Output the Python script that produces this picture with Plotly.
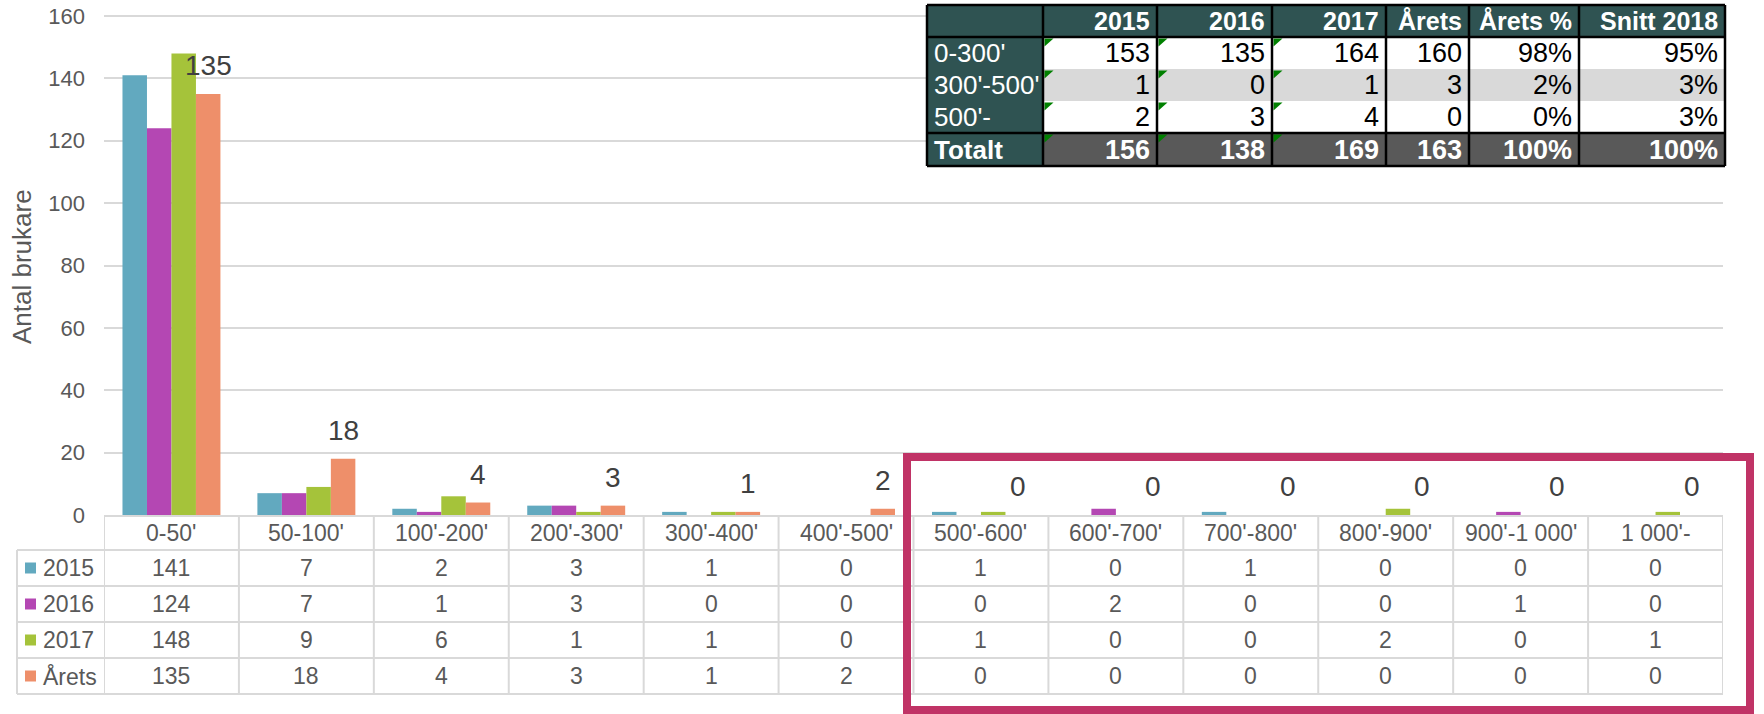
import plotly.graph_objects as go

W, H = 1764, 714
OFF = 0  # the page body margin is removed below (post_script)

# ---------------- data ----------------
categories = ["0-50'", "50-100'", "100'-200'", "200'-300'", "300'-400'", "400'-500'",
              "500'-600'", "600'-700'", "700'-800'", "800'-900'", "900'-1 000'", "1 000'-"]
series_names = ["2015", "2016", "2017", "Årets"]
v2015 = [141, 7, 2, 3, 1, 0, 1, 0, 1, 0, 0, 0]
v2016 = [124, 7, 1, 3, 0, 0, 0, 2, 0, 0, 1, 0]
v2017 = [148, 9, 6, 1, 1, 0, 1, 0, 0, 2, 0, 1]
varets = [135, 18, 4, 3, 1, 2, 0, 0, 0, 0, 0, 0]
series_values = [v2015, v2016, v2017, varets]
series_colors = ["#62A9BF", "#B447B3", "#A5C33A", "#EE8F6A"]
y_tickvals = [0, 20, 40, 60, 80, 100, 120, 140, 160]
y_title = "Antal brukare"

# summary table (top right)
sum_header = ["", "2015", "2016", "2017", "Årets", "Årets %", "Snitt 2018"]
sum_row_labels = ["0-300'", "300'-500'", "500'-", "Totalt"]
sum_2015 = [153, 1, 2, 156]
sum_2016 = [135, 0, 3, 138]
sum_2017 = [164, 1, 4, 169]
sum_arets = [160, 3, 0, 163]
sum_arets_pct = ["98%", "2%", "0%", "100%"]
sum_snitt = ["95%", "3%", "3%", "100%"]

# ---------------- layout geometry (page pixels) ----------------
PLOT_L, PLOT_R = 104, 1723
Y160, Y_BOT = 16, 515          # pixel rows of value 160 and value 0
Y_MAX = 161                    # small headroom so the 160 gridline is kept
Y_TOP = Y_BOT - (Y_BOT - Y160) * Y_MAX / 160
BARGAP = 0.274
TXT = "#595959"
GRID = "#D9D9D9"
FONT = "Liberation Sans, Arial, sans-serif"


def px(x):
    return (x - OFF) / W


def py(y):
    return 1 - (y - OFF) / H


fig = go.Figure()
for name, vals, col in zip(series_names, series_values, series_colors):
    fig.add_trace(go.Bar(x=categories, y=vals, name=name, marker_color=col,
                         marker_line_width=0, showlegend=False, hoverinfo="x+y+name"))

shapes = []
annotations = []

# data labels for "Årets" series (outside end)
bar_w = (1 - BARGAP) / len(series_names)
arets_off = bar_w * 1.5
for i, v in enumerate(varets):
    annotations.append(dict(x=i + arets_off, y=v, xref="x", yref="y", text=str(v),
                            showarrow=False, yanchor="bottom", yshift=11,
                            font=dict(size=28, color="#404040", family=FONT)))

# y-axis title
annotations.append(dict(x=px(22), y=py(267), xref="paper", yref="paper", text=y_title,
                        textangle=-90, showarrow=False, xanchor="center", yanchor="middle",
                        font=dict(size=26, color=TXT, family=FONT)))

# ---------------- data table under the chart ----------------
T_HDR_TOP, T_HDR_BOT = 516, 550
row_edges = [550, 586, 622, 658, 694]
LEG_L = 17
line_style = dict(color=GRID, width=2)
# horizontal lines
shapes.append(dict(type="line", xref="paper", yref="paper", x0=px(PLOT_L), x1=px(PLOT_R),
                   y0=py(T_HDR_TOP), y1=py(T_HDR_TOP), line=line_style, layer="above"))
for ye in row_edges:
    shapes.append(dict(type="line", xref="paper", yref="paper", x0=px(LEG_L), x1=px(PLOT_R),
                       y0=py(ye), y1=py(ye), line=line_style, layer="above"))
# vertical lines
for k in range(len(categories) + 1):
    shapes.append(dict(type="line", xref="x", yref="paper", x0=k - 0.5, x1=k - 0.5,
                       y0=py(T_HDR_TOP), y1=py(row_edges[-1]), line=line_style, layer="above"))
shapes.append(dict(type="line", xref="paper", yref="paper", x0=px(LEG_L), x1=px(LEG_L),
                   y0=py(row_edges[0]), y1=py(row_edges[-1]), line=line_style, layer="above"))
# category header labels
for i, c in enumerate(categories):
    annotations.append(dict(x=i, y=py((T_HDR_TOP + T_HDR_BOT) / 2), xref="x", yref="paper",
                            text=c, showarrow=False, xanchor="center", yanchor="middle",
                            font=dict(size=23, color=TXT, family=FONT)))
# rows
for r, (name, vals, col) in enumerate(zip(series_names, series_values, series_colors)):
    yc = (row_edges[r] + row_edges[r + 1]) / 2
    shapes.append(dict(type="rect", xref="paper", yref="paper", x0=px(25), x1=px(36),
                       y0=py(yc - 5.5), y1=py(yc + 5.5), fillcolor=col, line_width=0))
    annotations.append(dict(x=px(41), y=py(yc), xref="paper", yref="paper", text=name,
                            showarrow=False, xanchor="left", yanchor="middle",
                            font=dict(size=23, color=TXT, family=FONT)))
    for i, v in enumerate(vals):
        annotations.append(dict(x=i, y=py(yc), xref="x", yref="paper", text=str(v),
                                showarrow=False, xanchor="center", yanchor="middle",
                                font=dict(size=23, color=TXT, family=FONT)))

# ---------------- summary table (top right) ----------------
col_edges = [927, 1043, 1157, 1272, 1386, 1469, 1579, 1725]
srow_edges = [5, 37, 69, 101, 133, 166]
SLATE = "#2F5352"
DGRAY = "#595959"
LGRAY = "#D9D9D9"
sum_cols = [sum_2015, sum_2016, sum_2017, sum_arets, sum_arets_pct, sum_snitt]


def cell_fill(r, c):
    if r == 0 or c == 0:
        return SLATE
    if r == 4:
        return DGRAY
    if r == 2:
        return LGRAY
    return "white"


for r in range(5):
    for c in range(7):
        shapes.append(dict(type="rect", xref="paper", yref="paper",
                           x0=px(col_edges[c]), x1=px(col_edges[c + 1]),
                           y0=py(srow_edges[r]), y1=py(srow_edges[r + 1]),
                           fillcolor=cell_fill(r, c), line_width=0, layer="above"))
# green indicator triangles
for r in range(1, 5):
    for c in range(1, 4):
        x0, y0 = col_edges[c] + 1.5, srow_edges[r] + 1.5
        path = (f"M {px(x0)} {py(y0)} L {px(x0 + 9)} {py(y0)} "
                f"L {px(x0)} {py(y0 + 8)} Z")
        shapes.append(dict(type="path", xref="paper", yref="paper", path=path,
                           fillcolor="#008000", line_width=0, layer="above"))
# borders
bl = dict(color="black", width=2.5)
for xe in col_edges:
    shapes.append(dict(type="line", xref="paper", yref="paper", x0=px(xe), x1=px(xe),
                       y0=py(srow_edges[0]), y1=py(srow_edges[-1]), line=bl, layer="above"))
for ye in [srow_edges[0], srow_edges[1], srow_edges[4], srow_edges[5]]:
    shapes.append(dict(type="line", xref="paper", yref="paper", x0=px(col_edges[0]),
                       x1=px(col_edges[-1]), y0=py(ye), y1=py(ye), line=bl, layer="above"))
# texts
for c in range(1, 7):
    annotations.append(dict(x=px(col_edges[c + 1] - 5), y=py((srow_edges[0] + srow_edges[1]) / 2),
                            xref="paper", yref="paper", text=f"<b>{sum_header[c]}</b>",
                            showarrow=False, xanchor="right", yanchor="middle",
                            font=dict(size=25, color="white", family=FONT)))
for r in range(4):
    yc = (srow_edges[r + 1] + srow_edges[r + 2]) / 2
    is_tot = r == 3
    lab = f"<b>{sum_row_labels[r]}</b>" if is_tot else sum_row_labels[r]
    annotations.append(dict(x=px(col_edges[0] + 5), y=py(yc), xref="paper", yref="paper",
                            text=lab, showarrow=False, xanchor="left", yanchor="middle",
                            font=dict(size=26, color="white", family=FONT)))
    for c in range(6):
        v = str(sum_cols[c][r])
        annotations.append(dict(x=px(col_edges[c + 2] - 5), y=py(yc), xref="paper", yref="paper",
                                text=f"<b>{v}</b>" if is_tot else v,
                                showarrow=False, xanchor="right", yanchor="middle",
                                font=dict(size=27, color="white" if is_tot else "black",
                                          family=FONT)))

# highlight rectangle
shapes.append(dict(type="rect", xref="paper", yref="paper", x0=px(907), x1=px(1750),
                   y0=py(457), y1=py(710), line=dict(color="#C03366", width=8),
                   fillcolor="rgba(0,0,0,0)", layer="above"))

fig.update_layout(
    width=W, height=H,
    margin=dict(l=0, r=0, t=0, b=0, autoexpand=False),
    paper_bgcolor="white", plot_bgcolor="white",
    barmode="group", bargap=BARGAP, bargroupgap=0,
    font=dict(family=FONT, color=TXT),
    xaxis=dict(domain=[px(PLOT_L), px(PLOT_R)], type="category", range=[-0.5, 11.5],
               showticklabels=False, showgrid=False, showline=False, zeroline=False,
               automargin=False, fixedrange=True),
    yaxis=dict(domain=[py(Y_BOT), py(Y_TOP)], range=[0, Y_MAX], tickvals=y_tickvals,
               showgrid=True, gridcolor=GRID, gridwidth=2, zeroline=False, showline=False,
               ticks="", ticklabelstandoff=18, automargin=False, ticklabeloverflow="allow",
               tickfont=dict(size=22, color=TXT, family=FONT), fixedrange=True),
    shapes=shapes,
    annotations=annotations,
)

fig.write_html("out.html",
               config={"displayModeBar": False, "staticPlot": True},
               post_script="document.body.style.margin='0';document.body.style.overflow='hidden';")
